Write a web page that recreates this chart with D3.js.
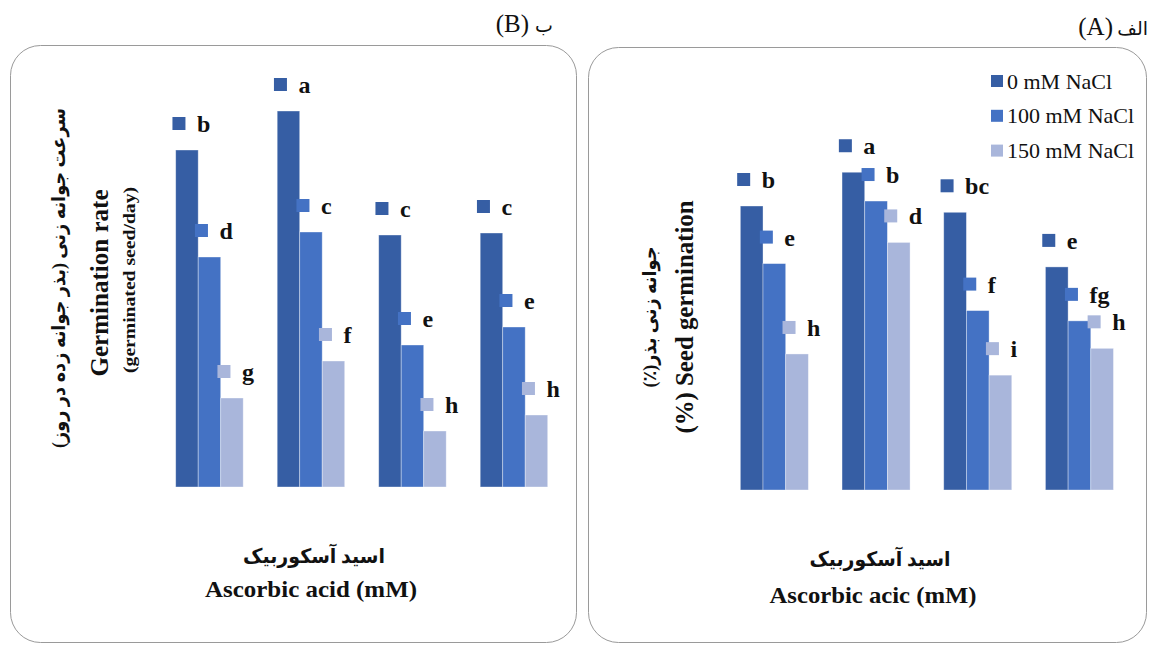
<!DOCTYPE html>
<html><head><meta charset="utf-8">
<script src="https://cdn.jsdelivr.net/npm/d3@7"></script>
<style>html,body{margin:0;padding:0;background:#fff;}svg{display:block;}</style>
</head><body>
<svg id="chart" width="1154" height="645"></svg>
<script>
// ---- data ----
const categories = ["AA1", "AA2", "AA3", "AA4"]; // ascorbic acid levels (not labelled in figure)
const series = ["0 mM NaCl", "100 mM NaCl", "150 mM NaCl"];
const colors = ["#365EA4", "#4472C4", "#A9B6DB"];
// Panel B: germination rate (seed/day)
const rate0 = [3.37, 3.76, 2.52, 2.54];
const rate100 = [2.30, 2.55, 1.42, 1.60];
const rate150 = [0.89, 1.26, 0.56, 0.72];
const rateLetters0 = ["b", "a", "c", "c"];
const rateLetters100 = ["d", "c", "e", "e"];
const rateLetters150 = ["g", "f", "h", "h"];
// Panel A: seed germination (%)
const germ0 = [85.8, 96.0, 83.9, 67.4];
const germ100 = [68.4, 87.3, 54.2, 51.1];
const germ150 = [41.1, 74.8, 34.7, 42.8];
const germLetters0 = ["b", "a", "bc", "e"];
const germLetters100 = ["e", "b", "f", "fg"];
const germLetters150 = ["h", "d", "i", "h"];

const svg = d3.select("#chart");
const serif = "'Liberation Serif','Times New Roman',Times,'DejaVu Sans',serif";

// frames
svg.append("rect").attr("x", 10.5).attr("y", 45.5).attr("width", 566).attr("height", 597)
  .attr("rx", 30).attr("fill", "none").attr("stroke", "#9a9a9a").attr("stroke-width", 1);
svg.append("rect").attr("x", 588.5).attr("y", 47.5).attr("width", 558).attr("height", 595)
  .attr("rx", 30).attr("fill", "none").attr("stroke", "#9a9a9a").attr("stroke-width", 1);

// panel captions
function caption(latinEnd, arEnd, base, latin, ar) {
  svg.append("text").attr("x", latinEnd).attr("y", base).attr("text-anchor", "end")
    .attr("font-family", serif).attr("font-size", 25).attr("fill", "#111").text(latin);
  svg.append("text").attr("x", arEnd).attr("y", base).attr("text-anchor", "end")
    .attr("font-family", serif).attr("font-size", 19).attr("fill", "#111").text(ar);
}
caption(529, 553, 32, "(B)", "ب");
caption(1113, 1148, 35, "(A)", "الف");

function drawPanel(cfg) {
  const x0 = d3.scaleBand().domain(categories).range(cfg.xRange)
    .paddingInner(cfg.pad).paddingOuter(cfg.pad / 2);
  const x1 = d3.scaleBand().domain(series).range([0, x0.bandwidth()]);
  const y = d3.scaleLinear().domain(cfg.yDomain).range(cfg.yRange);
  const rows = [];
  categories.forEach((c, i) => {
    series.forEach((s, j) => {
      rows.push({cat: c, ser: s, j: j, v: cfg.values[j][i], L: cfg.letters[j][i]});
    });
  });
  const g = svg.append("g");
  g.selectAll("rect.bar").data(rows).join("rect").attr("class", "bar")
    .attr("x", d => x0(d.cat) + x1(d.ser))
    .attr("y", d => y(d.v))
    .attr("width", x1.bandwidth())
    .attr("height", d => y(0) - y(d.v))
    .attr("fill", d => colors[d.j])
    .attr("stroke", "#ffffff").attr("stroke-opacity", 0.45).attr("stroke-width", 0.8);
  const cx = d => x0(d.cat) + x1(d.ser) + x1.bandwidth() / 2;
  g.selectAll("rect.key").data(rows).join("rect").attr("class", "key")
    .attr("x", d => cx(d) - 8 - 6.5)
    .attr("y", d => y(d.v) - 26.5 - 6.5)
    .attr("width", 13).attr("height", 13)
    .attr("fill", d => colors[d.j]);
  g.selectAll("text.lab").data(rows).join("text").attr("class", "lab")
    .attr("x", d => cx(d) + 10)
    .attr("y", d => y(d.v) - 26.5 + 8.5)
    .attr("font-family", serif).attr("font-weight", "bold").attr("font-size", 24)
    .attr("fill", "#111").text(d => d.L);
}

drawPanel({
  xRange: [158.7, 564.7], pad: 0.335,
  yDomain: [0, 4], yRange: [487, 87],
  values: [rate0, rate100, rate150],
  letters: [rateLetters0, rateLetters100, rateLetters150]
});
drawPanel({
  xRange: [723.5, 1130.3], pad: 0.331,
  yDomain: [0, 100], yRange: [490, 159],
  values: [germ0, germ100, germ150],
  letters: [germLetters0, germLetters100, germLetters150]
});

// legend (panel A)
const leg = svg.append("g");
series.forEach((s, j) => {
  const yy = 81 + j * 34.8;
  leg.append("rect").attr("x", 991).attr("y", yy - 6).attr("width", 12).attr("height", 12).attr("fill", colors[j]);
  leg.append("text").attr("x", 1007).attr("y", yy + 7.5)
    .attr("font-family", serif).attr("font-size", 22).attr("fill", "#111").text(s);
});

// axis titles
function rotText(x, y, txt, size, len, opts) {
  const t = svg.append("text")
    .attr("transform", `translate(${x},${y}) rotate(-90)`)
    .attr("text-anchor", "middle")
    .attr("font-family", serif).attr("font-weight", "bold").attr("font-size", size)
    .attr("fill", "#111")
    .attr("textLength", len).attr("lengthAdjust", "spacingAndGlyphs")
    .text(txt);
  if (opts && opts.rtl) t.attr("direction", "rtl").attr("unicode-bidi", "embed");
  if (opts && opts.central) t.attr("dominant-baseline", "central");
  return t;
}
function hText(x, y, txt, size, len, opts) {
  const t = svg.append("text").attr("x", x).attr("y", y)
    .attr("text-anchor", "middle")
    .attr("font-family", serif).attr("font-weight", "bold").attr("font-size", size)
    .attr("fill", "#111")
    .attr("textLength", len).attr("lengthAdjust", "spacingAndGlyphs")
    .text(txt);
  if (opts && opts.rtl) t.attr("direction", "rtl").attr("unicode-bidi", "embed");
  if (opts && opts.central) t.attr("dominant-baseline", "central");
  return t;
}

// panel B
rotText(58, 278, "سرعت جوانه زنی (بذر جوانه زده در روز)", 19, 340, {rtl: true, central: true});
rotText(108, 283, "Germination rate", 25, 187);
rotText(135, 280, "(germinated seed/day)", 17, 186);
hText(314, 556, "اسید آسکوربیک", 20, 142, {rtl: true, central: true});
hText(311, 597, "Ascorbic acid (mM)", 23, 212);

// panel A
rotText(649, 317, "جوانه زنی بذر(٪)", 19, 141, {rtl: true, central: true});
rotText(693, 317, "(%) Seed germination", 25, 233);
hText(880, 559, "اسید آسکوربیک", 20, 141, {rtl: true, central: true});
hText(873, 603, "Ascorbic acic (mM)", 23, 207);
</script>
</body></html>
